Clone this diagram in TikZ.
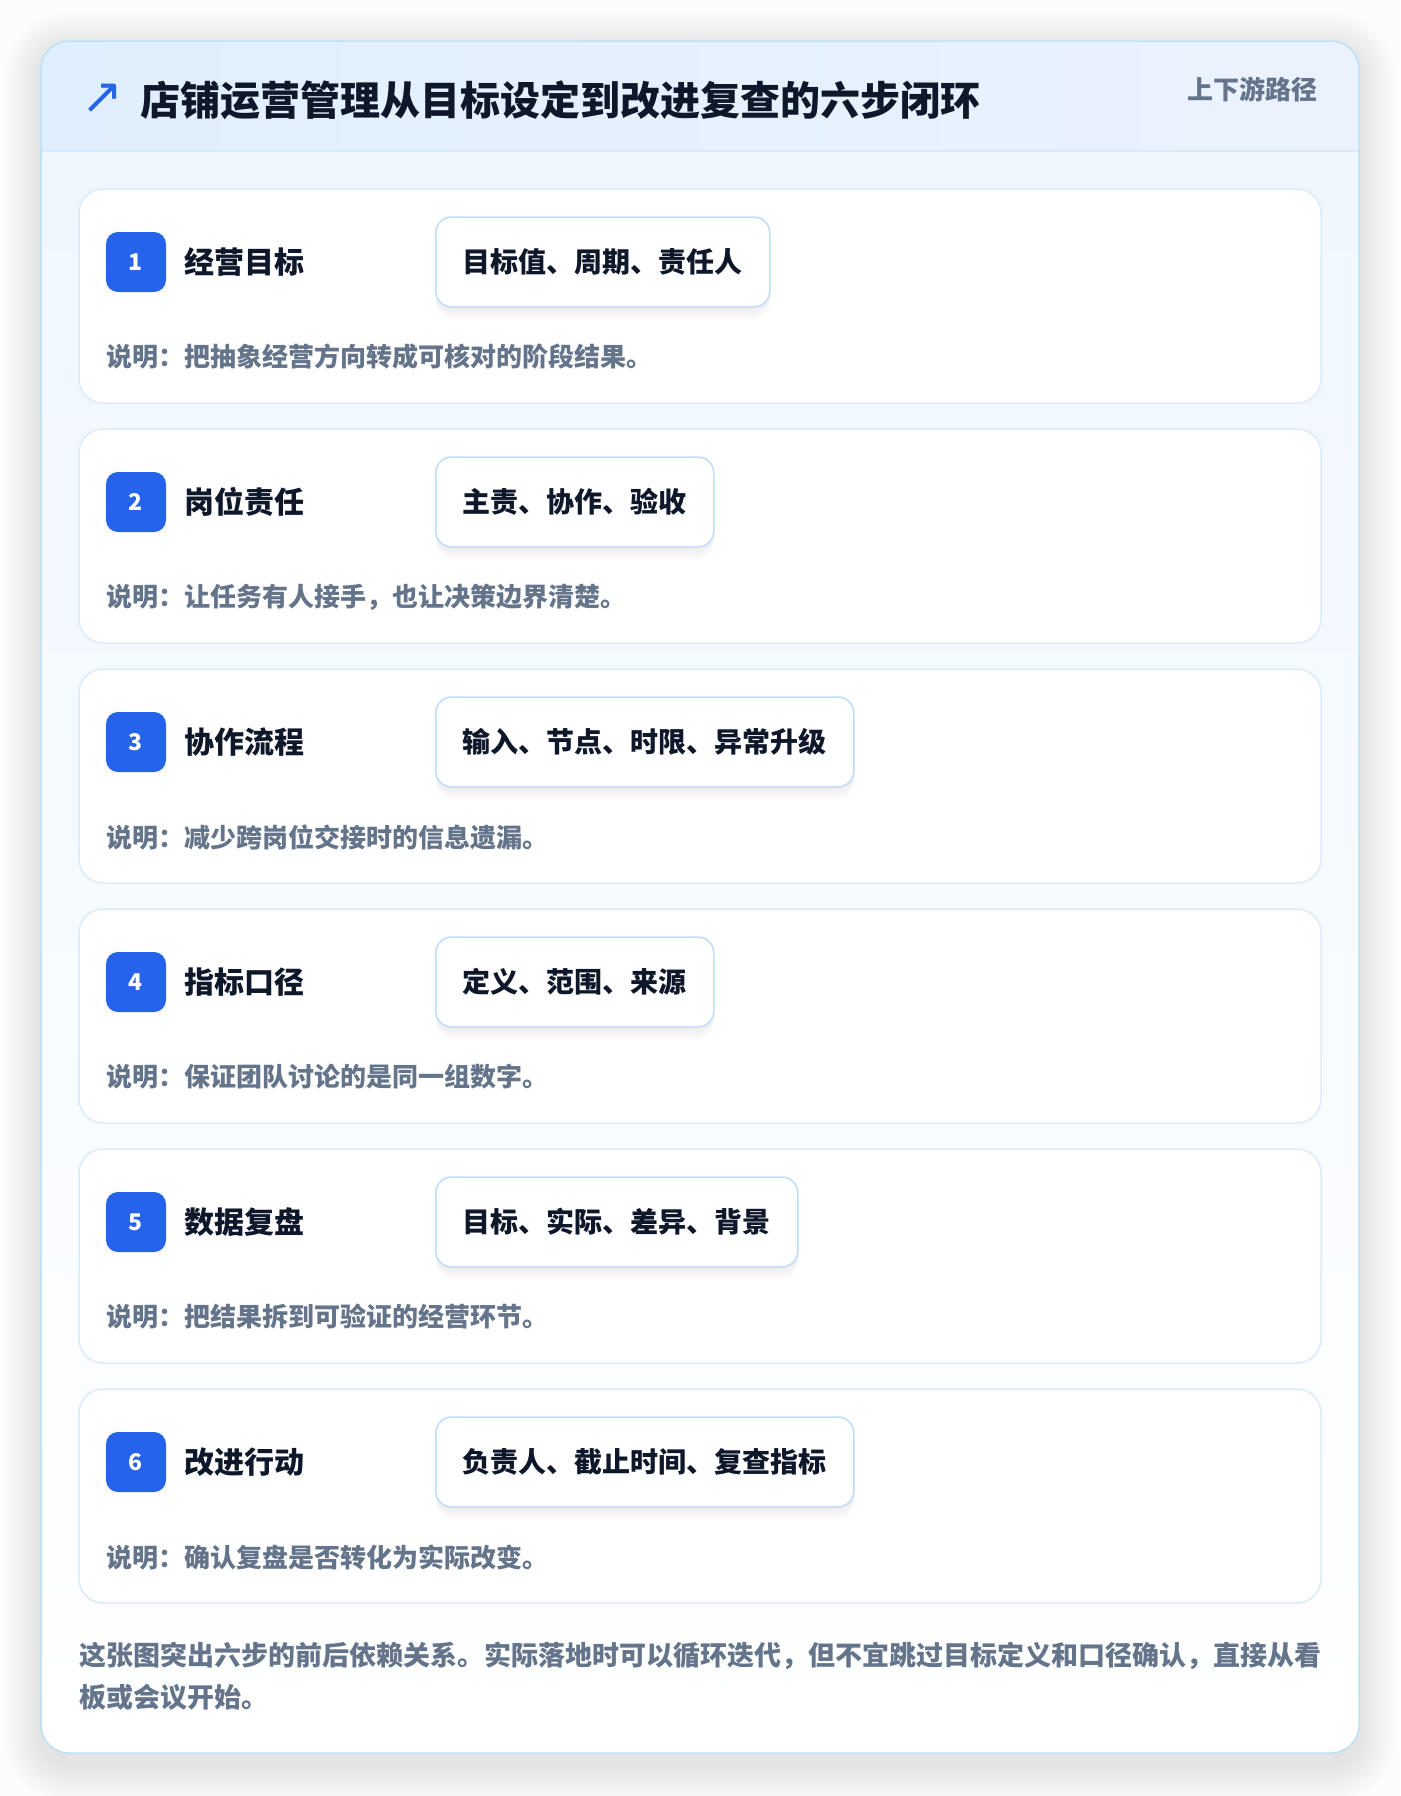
\documentclass[tikz,border=0pt]{standalone}
\usepackage{fontspec}
\setmainfont{Noto Sans CJK SC}
\newfontfamily\titlefont{Noto Sans CJK SC Black}
\newfontfamily\symfont{DejaVu Sans}
\definecolor{ink}{HTML}{0F172A}
\definecolor{muted}{HTML}{64748B}
\definecolor{accent}{HTML}{2563EB}
\definecolor{cardline}{HTML}{DCEAFB}
\definecolor{tagline}{HTML}{BFDBFE}
\definecolor{frame}{HTML}{BCE2F8}
\definecolor{headl}{HTML}{E0EFFD}
\definecolor{headr}{HTML}{EBF2FE}
\definecolor{headsep}{HTML}{D6E8FB}
\definecolor{bodytop}{HTML}{F0F7FF}
\definecolor{page}{HTML}{FCFCFD}
\begin{document}
\begin{tikzpicture}[x=1pt, y=-1pt,
    stepcard/.style={draw=cardline, line width=1.5pt, fill=white, rounded corners=24pt,
      minimum width=1242pt, minimum height=214pt, inner sep=0pt},
    badge/.style={fill=accent, rounded corners=12pt, minimum size=60pt, inner sep=0pt,
      text=white, font=\fontsize{23}{23}\selectfont\bfseries},
    steptitle/.style={anchor=west, inner sep=0pt, text=ink,
      font=\fontsize{30}{30}\selectfont\bfseries},
    tagbox/.style={anchor=west, draw=tagline, line width=1.5pt, fill=white,
      rounded corners=16pt, minimum height=90pt, inner xsep=27pt, text=ink,
      font=\fontsize{28}{28}\selectfont\bfseries,
      preaction={fill=black, opacity=0.016, transform canvas={yshift=-3pt}},
      preaction={fill=black, opacity=0.016, transform canvas={yshift=-6pt}},
      preaction={fill=black, opacity=0.016, transform canvas={yshift=-9pt}},
      preaction={fill=black, opacity=0.016, transform canvas={yshift=-12pt}}},
    note/.style={anchor=west, inner sep=0pt, text=muted,
      font=\fontsize{26}{26}\selectfont\bfseries}]
  % page
  \useasboundingbox (0,0) rectangle (1400,1796);
  \fill[page] (0,0) rectangle (1400,1796);
  % soft shadow of the outer card
  \foreach \d in {3,6,...,36}
    \fill[black, opacity=0.009, rounded corners=28pt+\d pt]
      (41-\d,49-\d) rectangle (1359+\d,1765+\d);
  % outer card
  \fill[white, rounded corners=28pt] (41,41) rectangle (1359,1753);
  \begin{scope}
    \clip[rounded corners=28pt] (41,41) rectangle (1359,1753);
    % header band
    \fill[left color=headl, right color=headr] (41,41) rectangle (1359,151);
    % body
    \fill[top color=bodytop, bottom color=white] (41,151) rectangle (1359,1753);
  \end{scope}
  \draw[headsep, line width=1.5pt] (41,151) -- (1359,151);
  \draw[frame, line width=1.5pt, rounded corners=28pt] (41,41) rectangle (1359,1753);
  % header texts
  \node[text=accent, font=\fontsize{50}{50}\selectfont\symfont] (icon) at (102,99) {↗};
  \node[anchor=west, inner sep=0pt, text=ink, font=\fontsize{40}{40}\selectfont\titlefont]
    (title) at (140,100) {店铺运营管理从目标设定到改进复查的六步闭环};
  \node[anchor=east, inner sep=0pt, text=muted, font=\fontsize{26}{26}\selectfont\bfseries]
    (route) at (1318,89) {上下游路径};
  % step 1
  \node[stepcard] (card1) at (700,296) {};
  \node[badge] (badge1) at (136,262) {1};
  \node[steptitle] (title1) at (184,262) {经营目标};
  \node[tagbox] (tag1) at (435,262) {目标值、周期、责任人};
  \node[note] (note1) at (106,357) {说明：把抽象经营方向转成可核对的阶段结果。};
  % step 2
  \node[stepcard] (card2) at (700,536) {};
  \node[badge] (badge2) at (136,502) {2};
  \node[steptitle] (title2) at (184,502) {岗位责任};
  \node[tagbox] (tag2) at (435,502) {主责、协作、验收};
  \node[note] (note2) at (106,597) {说明：让任务有人接手，也让决策边界清楚。};
  % step 3
  \node[stepcard] (card3) at (700,776) {};
  \node[badge] (badge3) at (136,742) {3};
  \node[steptitle] (title3) at (184,742) {协作流程};
  \node[tagbox] (tag3) at (435,742) {输入、节点、时限、异常升级};
  \node[note] (note3) at (106,837) {说明：减少跨岗位交接时的信息遗漏。};
  % step 4
  \node[stepcard] (card4) at (700,1016) {};
  \node[badge] (badge4) at (136,982) {4};
  \node[steptitle] (title4) at (184,982) {指标口径};
  \node[tagbox] (tag4) at (435,982) {定义、范围、来源};
  \node[note] (note4) at (106,1077) {说明：保证团队讨论的是同一组数字。};
  % step 5
  \node[stepcard] (card5) at (700,1256) {};
  \node[badge] (badge5) at (136,1222) {5};
  \node[steptitle] (title5) at (184,1222) {数据复盘};
  \node[tagbox] (tag5) at (435,1222) {目标、实际、差异、背景};
  \node[note] (note5) at (106,1317) {说明：把结果拆到可验证的经营环节。};
  % step 6
  \node[stepcard] (card6) at (700,1496) {};
  \node[badge] (badge6) at (136,1462) {6};
  \node[steptitle] (title6) at (184,1462) {改进行动};
  \node[tagbox] (tag6) at (435,1462) {负责人、截止时间、复查指标};
  \node[note] (note6) at (106,1557) {说明：确认复盘是否转化为实际改变。};
  % footer
  \node[anchor=west, inner sep=0pt, align=left, text=muted,
    font=\fontsize{27}{42}\selectfont\bfseries] (footer) at (79,1676)
    {这张图突出六步的前后依赖关系。实际落地时可以循环迭代，但不宜跳过目标定义和口径确认，直接从看\\板或会议开始。};
\end{tikzpicture}
\end{document}
